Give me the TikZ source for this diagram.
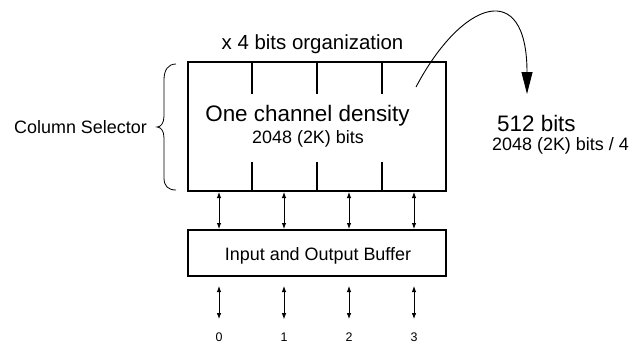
\documentclass[tikz,border=0pt]{standalone}
\usepackage{fontspec}
\setmainfont{Liberation Sans}
\usetikzlibrary{arrows.meta}
\tikzset{
  boxstyle/.style={draw, line width=2bp, inner sep=0pt},
  divider/.style={line width=2bp},
  dbl/.style={line width=0.9bp, {Latex[length=6bp,width=4.5bp]}-{Latex[length=6bp,width=4.5bp]}},
  smalltext/.style={font=\fontsize{18}{20}\selectfont, inner sep=0pt},
  bigtext/.style={font=\fontsize{22.5}{25}\selectfont, inner sep=0pt},
  titletext/.style={font=\fontsize{20.5}{23}\selectfont, inner sep=0pt},
  digit/.style={font=\fontsize{12.5}{14}\selectfont, inner sep=0pt, anchor=base},
}
\begin{document}
\begin{tikzpicture}[x=1bp,y=-1bp]
\useasboundingbox (0,0) rectangle (634,347);
% main memory box
\node[boxstyle, minimum width=258bp, minimum height=129bp] (mem) at (317,126.5) {};
\node[boxstyle, minimum width=258bp, minimum height=46bp] (buf) at (317,253) {};
% dividers
\foreach \x in {252,317,382}{
  \draw[divider] (\x,0 |- mem.north) -- (\x,94);
  \draw[divider] (\x,162) -- (\x,0 |- mem.south);
}
% texts
\node[titletext, anchor=base] (title) at (312.5,49) {x 4 bits organization};
\node[bigtext, anchor=base] (density) at (307.5,121.5) {One channel density};
\node[smalltext, anchor=base] (dsub) at (308,143.3) {2048 (2K) bits};
\node[smalltext, anchor=base] (bufl) at (318,260.5) {Input and Output Buffer};
\node[smalltext, anchor=base] (colsel) at (80.5,133.3) {Column Selector};
\node[bigtext, anchor=base west] (b512) at (497,131.5) {512 bits};
\node[smalltext, anchor=base west] (b512sub) at (492,150) {2048 (2K) bits / 4};
% digits
\node[digit] (d0) at (219,341) {0};
\node[digit] (d1) at (284,341) {1};
\node[digit] (d2) at (349,341) {2};
\node[digit] (d3) at (414,341) {3};
% arrows
\foreach \d in {d0,d1,d2,d3}{
  \draw[dbl] (mem.south -| \d) -- (buf.north -| \d);
  \draw[dbl, shorten <=9bp, shorten >=13bp] (buf.south -| \d) -- (\d.north);
}
% brace
\draw[line width=0.8bp] (176,64) .. controls (168,64) and (164,70) .. (164,80) -- (164,116)
  .. controls (164,123) and (161,127) .. (157,127)
  .. controls (161,127) and (164,131) .. (164,138) -- (164,178)
  .. controls (164,186) and (168,190) .. (176,190);
% curved arrow
\coordinate (cstart) at (416,87);
\coordinate (ctip) at (527,94);
\draw[line width=0.9bp, -{Triangle[length=22bp,width=11bp]}] (cstart) .. controls (462,0) and (527,-22) .. (ctip);
\end{tikzpicture}
\end{document}
